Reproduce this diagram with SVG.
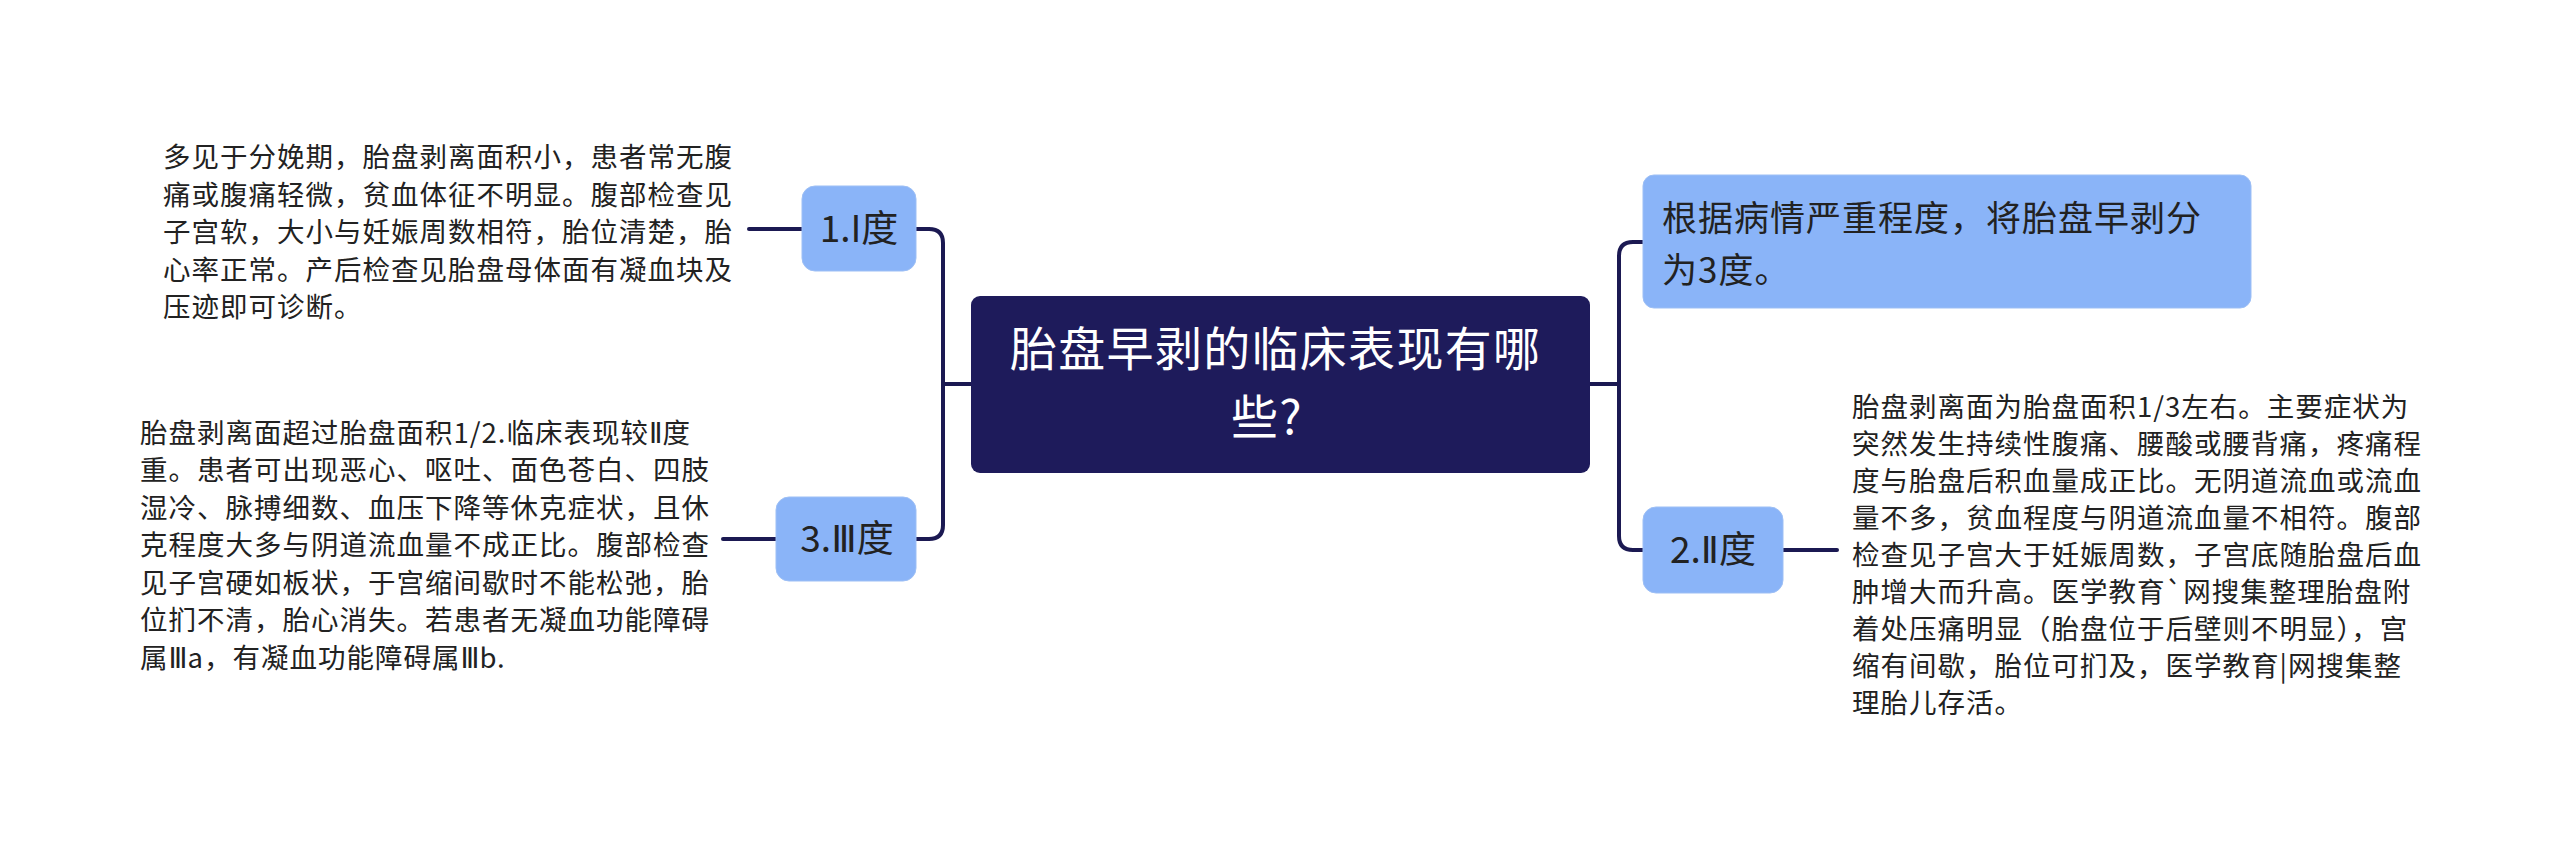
<svg xmlns="http://www.w3.org/2000/svg" width="2560" height="853" viewBox="0 0 2560 853">
<style>
.conn{fill:none;stroke:#1b1952;stroke-width:4;stroke-linecap:round}
.sub{fill:#8ab4f8;stroke:#9dbff5;stroke-width:1}
.t{font-family:"Noto Sans CJK SC","Noto Sans",sans-serif;fill:#222222}
.body{font-size:27.5px;letter-spacing:1px}
.lbl{font-size:37px}
.main{font-size:47px;letter-spacing:1.3px;fill:#ffffff}
.big{font-size:35px;letter-spacing:1px}
.rn{font-family:"DejaVu Sans",sans-serif;letter-spacing:0}
</style>
<rect width="2560" height="853" fill="#ffffff"/>
<g id="connectors">
<path class="conn" d="M971,384 H943"/>
<path class="conn" d="M916,229 H929 Q943,229 943,243 V525 Q943,539 929,539 H916"/>
<path class="conn" d="M749,229 H802"/>
<path class="conn" d="M723,539 H776"/>
<path class="conn" d="M1590,384 H1619"/>
<path class="conn" d="M1643,242 H1633 Q1619,242 1619,256 V536 Q1619,550 1633,550 H1643"/>
<path class="conn" d="M1783,550 H1837"/>
</g>
<g id="center">
<rect x="971" y="296" width="619" height="177" rx="9" fill="#1e1b5b"/>
<text class="t main" x="1010" y="366">胎盘早剥的临床表现有哪</text>
<text class="t main" x="1231" y="434">些?</text>
</g>
<g id="n1">
<rect class="sub" x="802" y="186" width="114" height="85" rx="13"/>
<text class="t lbl" x="859" y="242" text-anchor="middle">1.I度</text>
</g>
<g id="n1text">
<text class="t body">
<tspan x="163" y="167">多见于分娩期，胎盘剥离面积小，患者常无腹</tspan>
<tspan x="163" y="204.5">痛或腹痛轻微，贫血体征不明显。腹部检查见</tspan>
<tspan x="163" y="242">子宫软，大小与妊娠周数相符，胎位清楚，胎</tspan>
<tspan x="163" y="279.5">心率正常。产后检查见胎盘母体面有凝血块及</tspan>
<tspan x="163" y="317">压迹即可诊断。</tspan>
</text>
</g>
<g id="n3">
<rect class="sub" x="776" y="497" width="140" height="84" rx="13"/>
<text class="t lbl" x="847" y="551.5" text-anchor="middle">3.<tspan class="rn">Ⅲ</tspan>度</text>
</g>
<g id="n3text">
<text class="t body">
<tspan x="140" y="442.5">胎盘剥离面超过胎盘面积1/2.临床表现较<tspan class="rn">Ⅱ</tspan>度</tspan>
<tspan x="140" y="480">重。患者可出现恶心、呕吐、面色苍白、四肢</tspan>
<tspan x="140" y="517.5">湿冷、脉搏细数、血压下降等休克症状，且休</tspan>
<tspan x="140" y="555">克程度大多与阴道流血量不成正比。腹部检查</tspan>
<tspan x="140" y="592.5">见子宫硬如板状，于宫缩间歇时不能松弛，胎</tspan>
<tspan x="140" y="630">位扪不清，胎心消失。若患者无凝血功能障碍</tspan>
<tspan x="140" y="667.5">属<tspan class="rn">Ⅲ</tspan>a，有凝血功能障碍属<tspan class="rn">Ⅲ</tspan>b.</tspan>
</text>
</g>
<g id="top">
<rect class="sub" x="1643" y="175" width="608" height="133" rx="11"/>
<text class="t big">
<tspan x="1662" y="231">根据病情严重程度，将胎盘早剥分</tspan>
<tspan x="1662" y="282.5">为3度。</tspan>
</text>
</g>
<g id="n2">
<rect class="sub" x="1643" y="507" width="140" height="86" rx="13"/>
<text class="t lbl" x="1713" y="562.5" text-anchor="middle">2.<tspan class="rn">Ⅱ</tspan>度</text>
</g>
<g id="n2text">
<text class="t body">
<tspan x="1852" y="416.5">胎盘剥离面为胎盘面积1/3左右。主要症状为</tspan>
<tspan x="1852" y="453.5">突然发生持续性腹痛、腰酸或腰背痛，疼痛程</tspan>
<tspan x="1852" y="490.5">度与胎盘后积血量成正比。无阴道流血或流血</tspan>
<tspan x="1852" y="527.5">量不多，贫血程度与阴道流血量不相符。腹部</tspan>
<tspan x="1852" y="564.5">检查见子宫大于妊娠周数，子宫底随胎盘后血</tspan>
<tspan x="1852" y="601.5">肿增大而升高。医学教育`网搜集整理胎盘附</tspan>
<tspan x="1852" y="638.5">着处压痛明显（胎盘位于后壁则不明显），宫</tspan>
<tspan x="1852" y="675.5">缩有间歇，胎位可扪及，医学教育|网搜集整</tspan>
<tspan x="1852" y="712.5">理胎儿存活。</tspan>
</text>
</g>
</svg>
